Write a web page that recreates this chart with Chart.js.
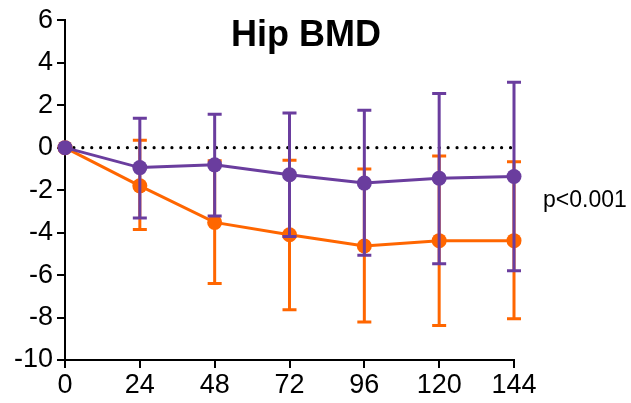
<!DOCTYPE html>
<html>
<head>
<meta charset="utf-8">
<script src="https://cdn.jsdelivr.net/npm/chart.js@4.4.1/dist/chart.umd.min.js"></script>
<style>
  body { margin: 0; background: #fff; }
  canvas { display: block; }
</style>
</head>
<body>
<canvas id="chart" width="631" height="403"></canvas>
<script>
// weeks
const weeks = [0, 24, 48, 72, 96, 120, 144];
const yTicks = [-10, -8, -6, -4, -2, 0, 2, 4, 6];

// purple group (mean with error bar ends)
const purpleMean  = [0, -0.94, -0.81, -1.28, -1.67, -1.44, -1.36];
const purpleUpper = [0,  1.38,  1.57,  1.63,  1.76,  2.55,  3.08];
const purpleLower = [0, -3.31, -3.22, -4.19, -5.07, -5.47, -5.80];

// orange group
const orangeMean  = [0, -1.80, -3.52, -4.10, -4.63, -4.38, -4.38];
const orangeUpper = [0,  0.35, -0.62, -0.59, -1.01, -0.39, -0.67];
const orangeLower = [0, -3.85, -6.40, -7.63, -8.21, -8.38, -8.06];

const title = "Hip BMD";
const pText = "p<0.001";

const PURPLE = "#6a3d9e";
const ORANGE = "#ff6600";
const FONT = "'Liberation Sans', Arial, sans-serif";

const toPts = arr => weeks.map((w, i) => ({ x: w, y: arr[i] }));

// error bars drawn just under each dataset
const errorBars = {
    id: "errorBars",
    beforeDatasetDraw(chart, args) {
        const ds = chart.data.datasets[args.index];
        if (!ds.errUpper) return;
        const ctx = chart.ctx;
        const xs = chart.scales.x, ys = chart.scales.y;
        ctx.save();
        ctx.strokeStyle = ds.borderColor;
        ctx.lineWidth = 3;
        weeks.forEach((w, i) => {
            if (ds.errUpper[i] === ds.errLower[i]) return;
            const px = xs.getPixelForValue(w);
            const top = ys.getPixelForValue(ds.errUpper[i]);
            const bot = ys.getPixelForValue(ds.errLower[i]);
            ctx.beginPath();
            ctx.moveTo(px, top); ctx.lineTo(px, bot);
            ctx.moveTo(px - 7, top); ctx.lineTo(px + 7, top);
            ctx.moveTo(px - 7, bot); ctx.lineTo(px + 7, bot);
            ctx.stroke();
        });
        ctx.restore();
    }
};

// title + p value
const labels = {
    id: "labels",
    afterDraw(chart) {
        const ctx = chart.ctx;
        ctx.save();
        ctx.fillStyle = "#000";
        ctx.textBaseline = "alphabetic";
        ctx.textAlign = "center";
        ctx.font = "bold 36px " + FONT;
        ctx.fillText(title, 306, 46);
        ctx.textAlign = "left";
        ctx.font = "23px " + FONT;
        ctx.fillText(pText, 543, 207);
        ctx.restore();
    }
};

new Chart(document.getElementById("chart"), {
    type: "line",
    data: {
        datasets: [
            {
                data: toPts(purpleMean),
                errUpper: purpleUpper,
                errLower: purpleLower,
                borderColor: PURPLE,
                backgroundColor: PURPLE,
                borderWidth: 3,
                pointRadius: 7.5,
                pointBorderWidth: 0,
                clip: false
            },
            {
                data: toPts(orangeMean),
                errUpper: orangeUpper,
                errLower: orangeLower,
                borderColor: ORANGE,
                backgroundColor: ORANGE,
                borderWidth: 3,
                pointRadius: 7.5,
                pointBorderWidth: 0,
                clip: false
            },
            {
                data: [{ x: weeks[0], y: 0 }, { x: weeks[weeks.length - 1], y: 0 }],
                borderColor: "#000",
                borderWidth: 3.2,
                borderDash: [0.01, 8.9],
                borderCapStyle: "round",
                pointRadius: 0,
                clip: false
            }
        ]
    },
    options: {
        responsive: false,
        animation: false,
        layout: { padding: { top: 19, right: 117, left: 0, bottom: 0 } },
        plugins: { legend: { display: false }, tooltip: { enabled: false } },
        scales: {
            x: {
                type: "linear",
                min: weeks[0],
                max: weeks[weeks.length - 1],
                afterBuildTicks: s => { s.ticks = weeks.map(v => ({ value: v })); },
                afterFit: s => { s.height = 43; },
                border: { color: "#000", width: 2 },
                grid: { drawOnChartArea: false, color: "#000", lineWidth: 2, tickLength: 8 },
                ticks: { color: "#000", font: { family: FONT, size: 27 }, padding: 1, maxRotation: 0 }
            },
            y: {
                min: yTicks[0],
                max: yTicks[yTicks.length - 1],
                afterBuildTicks: s => { s.ticks = yTicks.map(v => ({ value: v })); },
                afterFit: s => { s.width = 65; },
                border: { color: "#000", width: 2 },
                grid: { drawOnChartArea: false, color: "#000", lineWidth: 2, tickLength: 8 },
                ticks: { color: "#000", font: { family: FONT, size: 27 }, padding: 4 }
            }
        }
    },
    plugins: [errorBars, labels]
});
</script>
</body>
</html>
